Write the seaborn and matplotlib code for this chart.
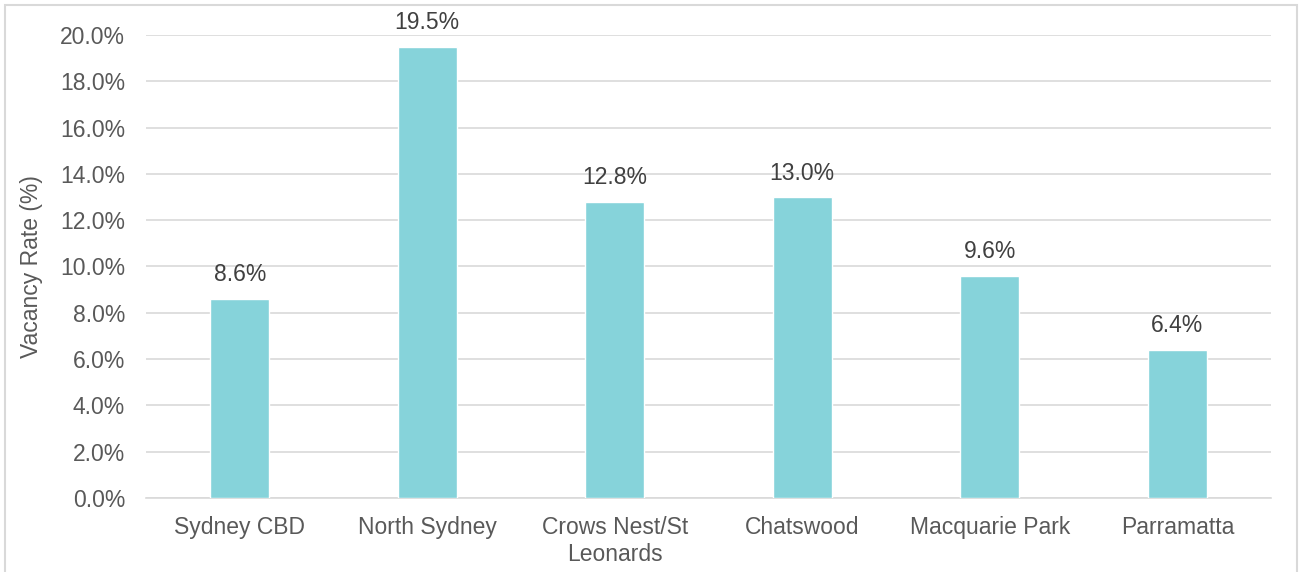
import matplotlib
matplotlib.use('Agg')
import matplotlib.pyplot as plt
import seaborn as sns
import pandas as pd
from matplotlib.patches import Rectangle
from matplotlib.ticker import FuncFormatter, MultipleLocator

# Data
markets = ['Sydney CBD', 'North Sydney', 'Crows Nest/St\nLeonards', 'Chatswood', 'Macquarie Park', 'Parramatta']
vacancy = [8.6, 19.5, 12.8, 13.0, 9.6, 6.4]

df = pd.DataFrame({'Market': markets, 'Vacancy': vacancy})

sns.set_theme(style='white')
plt.rcParams['font.family'] = ['Liberation Sans', 'DejaVu Sans']

FS = 16.5

fig = plt.figure(figsize=(13.01, 5.72), dpi=100)
ax = fig.add_axes([0.1122, 0.1294, 0.8648, 0.8094])

sns.barplot(data=df, x='Market', y='Vacancy', color='#86D3DA', width=0.315,
            saturation=1, ax=ax, zorder=3)

ax.set_ylim(0, 20)
ax.set_xlim(-0.5, len(markets) - 0.5)
ax.yaxis.set_major_locator(MultipleLocator(2))
ax.yaxis.set_major_formatter(FuncFormatter(lambda v, p: f'{v:.1f}%'))
ax.grid(axis='y', color='#d9d9d9', linewidth=1.2, zorder=0)
ax.set_axisbelow(True)

for s in ['top', 'right', 'left']:
    ax.spines[s].set_visible(False)
ax.spines['bottom'].set_color('#d9d9d9')
ax.spines['bottom'].set_linewidth(1.2)

ax.tick_params(axis='both', length=0, labelsize=FS, colors='#595959')
ax.tick_params(axis='y', pad=15)
ax.tick_params(axis='x', pad=13)
ax.set_xlabel('')
ax.set_ylabel('Vacancy Rate (%)', fontsize=FS, color='#595959', labelpad=12)

for i, v in enumerate(vacancy):
    ax.annotate(f'{v:.1f}%', (i, v), xytext=(0, 9), textcoords='offset points',
                ha='center', va='bottom', fontsize=FS, color='#404040')

fig.patches.append(Rectangle((0.0035, -0.01), 0.9935, 1.002, transform=fig.transFigure,
                             fill=False, edgecolor='#d9d9d9', linewidth=1.5))

fig.savefig('out.png', dpi=100)
